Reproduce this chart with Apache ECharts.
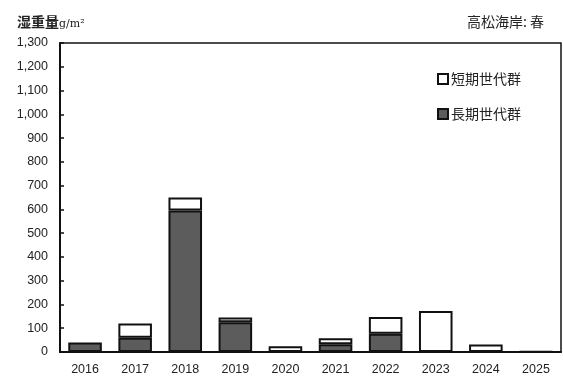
<!DOCTYPE html>
<html>
<head>
<meta charset="utf-8">
<script src="https://cdn.jsdelivr.net/npm/echarts@6/dist/echarts.min.js"></script>
<style>
  html, body { margin: 0; padding: 0; background: #fff; }
  #chart { width: 563px; height: 379px; }
</style>
</head>
<body>
<div id="chart"></div>
<script>
var years = ['2016', '2017', '2018', '2019', '2020', '2021', '2022', '2023', '2024', '2025'];
// 長期世代群 (bottom)
var longTerm = [40, 60, 595, 125, null, 33, 77, null, null, null];
// 短期世代群 (top)
var shortTerm = [null, 60, 55, 20, 24, 25, 70, 172, 32, 3];

var myChart = echarts.init(document.getElementById('chart'));

var jp = '"Noto Sans CJK JP", sans-serif';

var option = {
    animation: false,
    backgroundColor: '#fff',
    title: [{
        text: '{a|湿重量}{b|g/m²}',
        left: 12,
        top: 8,
        textStyle: {
            rich: {
                a: { fontFamily: jp, fontSize: 14, fontWeight: 'bold', color: '#222', lineHeight: 18 },
                b: { fontFamily: '"DejaVu Serif", serif', fontSize: 11, fontWeight: 'normal', color: '#222',
                     lineHeight: 18, padding: [5, 0, 0, 0] }
            }
        }
    }, {
        text: '高松海岸: 春',
        right: 14,
        top: 10,
        textStyle: { fontFamily: jp, fontSize: 14, fontWeight: 'normal', color: '#222' }
    }],
    legend: {
        data: ['短期世代群', '長期世代群'],
        orient: 'vertical',
        left: 432,
        top: 67,
        itemWidth: 10,
        itemHeight: 10,
        itemGap: 21,
        icon: 'rect',
        textStyle: { fontFamily: jp, fontSize: 14, color: '#222', padding: [0, 0, 0, -2] }
    },
    grid: {
        left: 60,
        right: 2,
        top: 43,
        bottom: 27,
        show: true,
        borderColor: '#111',
        borderWidth: 1.5
    },
    xAxis: {
        type: 'category',
        data: years,
        axisLine: { lineStyle: { color: '#111', width: 2 } },
        axisTick: { inside: true, length: 4, lineStyle: { color: '#111', width: 2 } },
        axisLabel: { color: '#222', fontSize: 12.5, margin: 11, fontFamily: 'Liberation Sans, sans-serif' }
    },
    yAxis: {
        type: 'value',
        min: 0,
        max: 1300,
        interval: 100,
        splitLine: { show: false },
        axisLine: { show: true, lineStyle: { color: '#111', width: 2 } },
        axisTick: { show: true, inside: true, length: 4, lineStyle: { color: '#111', width: 1.5 } },
        axisLabel: {
            color: '#222',
            fontSize: 12.5,
            margin: 12,
            fontFamily: 'Liberation Sans, sans-serif',
            formatter: function (v) { return v.toLocaleString('en-US'); }
        }
    },
    series: [{
        name: '長期世代群',
        type: 'bar',
        stack: 'total',
        barWidth: '67%',
        data: longTerm,
        itemStyle: { color: '#5c5c5c', borderColor: '#111', borderWidth: 2 }
    }, {
        name: '短期世代群',
        type: 'bar',
        stack: 'total',
        barWidth: '67%',
        data: shortTerm,
        itemStyle: { color: '#fff', borderColor: '#111', borderWidth: 2 }
    }]
};

myChart.setOption(option);
</script>
</body>
</html>
